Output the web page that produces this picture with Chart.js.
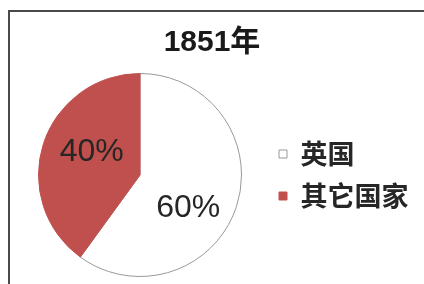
<!DOCTYPE html>
<html>
<head>
<meta charset="utf-8">
<script src="https://cdn.jsdelivr.net/npm/chart.js@4"></script>
<style>
  body { margin: 0; background: #fff; }
  #wrap { position: relative; width: 424px; height: 284px; overflow: hidden; }
  #frame { position: absolute; left: 8px; top: 10px; width: 430px; height: 290px;
           border-top: 2px solid #4a4a4a; border-left: 2px solid #4a4a4a; pointer-events: none; }
</style>
</head>
<body>
<div id="wrap">
  <canvas id="pie" width="424" height="284"></canvas>
  <div id="frame"></div>
</div>
<script>
const titleText = '1851年'
const countries = ['英国', '其它国家']
const shares = [60, 40]
const sliceColors = ['#ffffff', '#c0504d']
const sliceBorders = ['#999999', '#c0504d']

// percent labels inside each slice (a bit lower than the mid-angle point, like excel does)
const sliceLabels = {
  id: 'sliceLabels',
  afterDatasetsDraw(chart) {
    const ctx = chart.ctx
    const meta = chart.getDatasetMeta(0)
    const data = chart.data.datasets[0].data
    const total = data.reduce((a, b) => a + b, 0)
    ctx.save()
    ctx.font = '32px "Liberation Sans", "Open Sans", sans-serif'
    ctx.fillStyle = '#262626'
    ctx.textAlign = 'center'
    ctx.textBaseline = 'middle'
    meta.data.forEach((arc, i) => {
      const p = arc.getProps(['x', 'y', 'startAngle', 'endAngle', 'outerRadius'], true)
      const mid = (p.startAngle + p.endAngle) / 2
      const pct = Math.round(data[i] / total * 100) + '%'
      const lx = p.x + Math.cos(mid) * p.outerRadius * 0.5
      const ly = p.y + Math.sin(mid) * p.outerRadius * 0.9 + 5
      ctx.fillText(pct, lx, ly)
    })
    ctx.restore()
  }
}

const pieConfig = {
  type: 'pie',
  data: {
    labels: countries,
    datasets: [{
      data: shares,
      backgroundColor: sliceColors,
      borderColor: sliceBorders,
      borderWidth: 1,
    }],
  },
  options: {
    responsive: false,
    animation: false,
    layout: { padding: { left: 16, right: 16, top: 0, bottom: 7 } },
    plugins: {
      title: {
        display: true,
        text: titleText,
        color: '#1a1a1a',
        font: { size: 30, weight: 'bold', family: '"Liberation Sans", "Noto Sans CJK SC", sans-serif' },
        padding: { top: 25, bottom: 12 },
      },
      legend: {
        position: 'right',
        fullSize: false,
        maxWidth: 144,
        labels: {
          boxWidth: 8,
          boxHeight: 8,
          padding: 15,
          color: '#262626',
          font: { size: 27, weight: 'bold', family: '"Noto Sans CJK SC", sans-serif' },
        },
      },
      tooltip: { enabled: false },
    },
  },
  plugins: [sliceLabels],
}

const pieCtx = document.getElementById('pie')
window.myPie = new Chart(pieCtx, pieConfig)
</script>
</body>
</html>
